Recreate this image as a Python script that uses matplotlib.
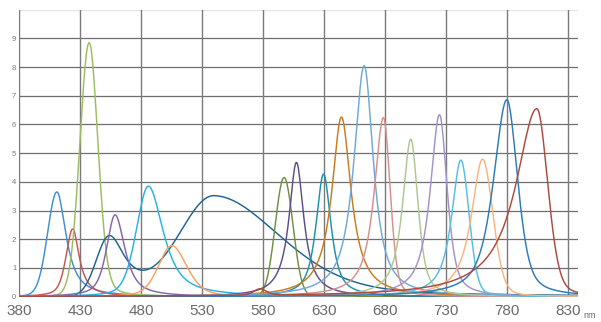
import numpy as np
import matplotlib
matplotlib.use("Agg")
import matplotlib.pyplot as plt

# ---- data (peak components) ----
# each component: peak wavelength (nm), peak height, half-width left/right (nm),
# Lorentzian tail fraction left/right, and the series it belongs to
peak_nm     = [411, 424, 437.5, 454, 540, 458.7, 486, 505.2, 577.5, 597.2, 607.3, 629.5, 644.2, 662.8, 678.6, 701, 724.5, 742, 759.8, 779.7, 804.3]
peak_height = [3.65, 2.36, 8.85, 2.1, 3.45, 2.85, 3.85, 1.78, 0.22, 4.15, 4.68, 4.27, 6.26, 8.05, 6.24, 5.49, 6.34, 4.76, 4.79, 6.86, 6.55]
hw_left     = [9, 6.5, 9, 12.5, 33, 8.2, 11.7, 13, 6, 8.5, 7.3, 7.3, 9.5, 10, 9, 8, 9, 9, 11, 13, 21]
hw_right    = [9, 6.5, 8.5, 16, 64, 9.6, 14.5, 14.5, 6, 8.5, 7.3, 7.3, 9.5, 9, 6.5, 7, 7.5, 8, 10, 10.5, 10.5]
tail_left   = [0.1, 0.5, 0.05, 0.0, 0.0, 0.6, 0.3, 0.3, 0.3, 0.0, 1.0, 0.8, 1.0, 0.9, 0.9, 0.9, 0.9, 0.9, 0.9, 0.7, 1.0]
tail_right  = [0.9, 1.0, 0.2, 1.0, 0.3, 0.8, 0.8, 0.4, 0.3, 0.0, 1.0, 0.8, 1.0, 0.9, 0.3, 0.6, 0.6, 0.2, 0.2, 0.5, 0.25]
series_of   = [0, 1, 2, 3, 3, 4, 5, 6, 18, 7, 8, 9, 10, 11, 12, 13, 14, 15, 16, 17, 18]

series_colors = ['#3d8fd6', '#c4574f', '#9cbd5e', '#1f6391', '#8466a8', '#27b2e3',
                 '#f7a35c', '#71913f', '#5e4d8c', '#1a93aa', '#cc7a1c', '#6ea9dd',
                 '#d78f8c', '#abc88f', '#a194cc', '#52bfe9', '#f9b47e', '#2b7bbb',
                 '#ac4a3e']

x_ticks = [380, 430, 480, 530, 580, 630, 680, 730, 780, 830]
y_ticks = [0, 1, 2, 3, 4, 5, 6, 7, 8, 9]

# ---- build curves ----
wl = np.arange(380, 840.01, 0.5)


def component(c, h, hl, hr, el, er):
    d = wl - c
    hw = np.where(d < 0, hl, hr)
    eta = np.where(d < 0, el, er)
    u = (d / hw) ** 2
    return h * (eta / (1 + u) + (1 - eta) * np.exp(-np.log(2) * u))


curves = [np.zeros_like(wl) for _ in series_colors]
for i in range(len(peak_nm)):
    curves[series_of[i]] += component(peak_nm[i], peak_height[i], hw_left[i],
                                      hw_right[i], tail_left[i], tail_right[i])

# ---- figure ----
fig = plt.figure(figsize=(6.01, 3.22), dpi=100)
L, R, B, T = 19 / 601, 578 / 601, 1 - 296.7 / 322, 1 - 9.6 / 322
ax = fig.add_axes([L, B, R - L, T - B])
ax.set_xlim(380, 838)
ax.set_ylim(0, 10)

for y in y_ticks:
    ax.axhline(y, color='#6e6e6e', lw=0.9, zorder=0)
ax.axhline(10, color='#e4e4e4', lw=1.0, zorder=0)
for x in x_ticks:
    ax.axvline(x, color='#7a7a7a', lw=1.0, zorder=0)

for s, col in enumerate(series_colors):
    ax.plot(wl, curves[s], color=col, lw=1.05, zorder=2, solid_joinstyle='round')

for sp in ax.spines.values():
    sp.set_visible(False)

ax.set_xticks(x_ticks)
ax.set_xticklabels([str(v) for v in x_ticks], family='Liberation Sans',
                   fontsize=11, color='#6a6a6a')
ax.set_yticks(y_ticks)
ax.set_yticklabels([str(v) for v in y_ticks], family='Liberation Sans',
                   fontsize=5.5, color='#7a7a7a')
ax.tick_params(axis='x', length=0, pad=5.5)
ax.tick_params(axis='y', length=0, pad=2)

fig.text(583 / 601, 1 - 318.5 / 322, 'nm', family='Liberation Sans',
         fontsize=6.5, color='#6a6a6a', ha='left', va='baseline')

fig.savefig('out.png', dpi=100, facecolor='white')
